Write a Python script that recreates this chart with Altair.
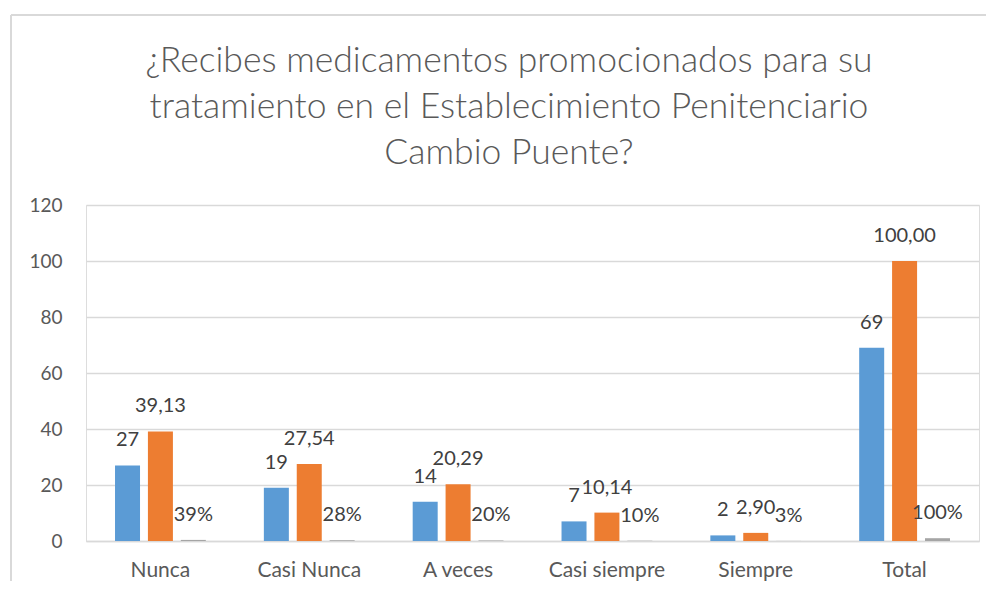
import altair as alt
import pandas as pd

categories = ["Nunca", "Casi Nunca", "A veces", "Casi siempre", "Siempre", "Total"]
counts = [27, 19, 14, 7, 2, 69]
percents = [39.13, 27.54, 20.29, 10.14, 2.90, 100.00]
fractions = [0.39, 0.28, 0.20, 0.10, 0.03, 1.00]
y_ticks = [0, 20, 40, 60, 80, 100, 120]
series_names = ["Frecuencia", "Porcentaje", "Proporción"]
series_colors = ["#5B9BD5", "#ED7D31", "#A5A5A5"]
title_lines = ["¿Recibes medicamentos promocionados para su",
               "tratamiento en el Establecimiento Penitenciario",
               "Cambio Puente?"]

rows = []
for i, c in enumerate(categories):
    rows.append({"cat": c, "serie": series_names[0], "value": counts[i], "label": f"{counts[i]}"})
    rows.append({"cat": c, "serie": series_names[1], "value": percents[i],
                 "label": f"{percents[i]:.2f}".replace(".", ",")})
    rows.append({"cat": c, "serie": series_names[2], "value": fractions[i],
                 "label": f"{round(fractions[i] * 100)}%"})
df = pd.DataFrame(rows)

FONT = "Lato"
TEXT = "#595959"
W, H = 893, 336
PAD_R, PAD_B = 7, 40

x = alt.X("cat:N", sort=categories, title=None,
          scale=alt.Scale(paddingInner=0.39, paddingOuter=0.195),
          axis=alt.Axis(labelAngle=0, ticks=False, domainColor="#d9d9d9", domainWidth=1.5,
                        labelPadding=18, labelFont=FONT, labelFontSize=21, labelColor=TEXT))
xo = alt.XOffset("serie:N", sort=series_names,
                 scale=alt.Scale(paddingInner=0.24, paddingOuter=0))
y = alt.Y("value:Q", title=None,
          scale=alt.Scale(domain=[0, 120], nice=False),
          axis=alt.Axis(values=y_ticks, domain=False, ticks=False, gridColor="#d9d9d9",
                        gridWidth=1.5, labelPadding=24, labelFont=FONT, labelFontSize=19,
                        labelColor=TEXT))
color = alt.Color("serie:N", sort=series_names,
                  scale=alt.Scale(domain=series_names, range=series_colors), legend=None)

base = alt.Chart(df)
bars = base.mark_bar().encode(x=x, xOffset=xo, y=y, color=color)
labels = base.mark_text(baseline="middle", dy=-25, font=FONT, fontSize=20, color="#404040").encode(
    x=x, xOffset=xo, y=y, text="label:N")

one = alt.Data(values=[{"a": 1}])
frame_top = alt.Chart(one).mark_rule(color="#d9d9d9", strokeWidth=2).encode(
    x=alt.value(-75), x2=alt.value(W + PAD_R), y=alt.value(-190))
frame_left = alt.Chart(one).mark_rule(color="#d9d9d9", strokeWidth=2).encode(
    x=alt.value(-75), y=alt.value(-190), y2=alt.value(H + PAD_B))
title = alt.Chart(one).mark_text(
    text=title_lines, font=FONT, fontSize=35.5, fontWeight=300, color=TEXT,
    lineHeight=46, align="center", baseline="alphabetic").encode(
    x=alt.value(423), y=alt.value(-133))

chart = alt.layer(frame_top, frame_left, title, bars, labels).properties(
    width=W, height=H,
    padding={"left": 78, "top": 197, "right": PAD_R, "bottom": PAD_B},
    autosize=alt.AutoSizeParams(type="none"),
).configure_view(strokeWidth=0).configure(background="white")

chart.save("out.html", embed_options={"renderer": "svg", "actions": False})
